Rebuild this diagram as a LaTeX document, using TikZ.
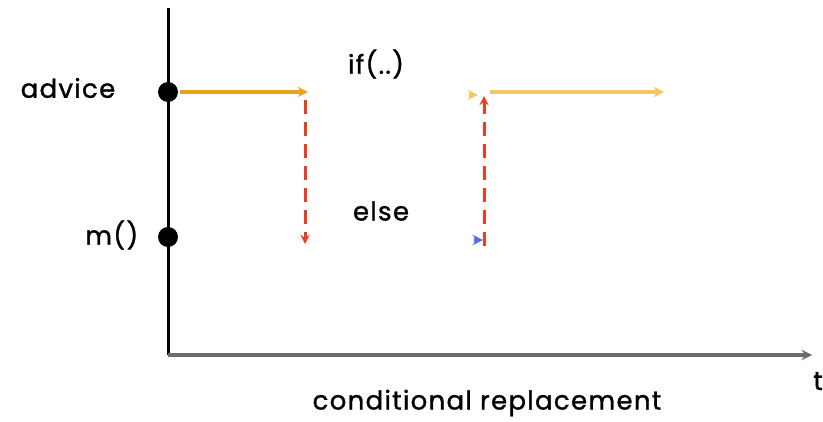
\documentclass[tikz,border=0pt]{standalone}
\usepackage{fontspec}
\setmainfont[LetterSpace=5,FakeBold=1.2]{Poppins}
\usetikzlibrary{positioning}
\definecolor{advorange}{HTML}{E9A41E}
\definecolor{newadv}{HTML}{F3C766}
\definecolor{jumpred}{HTML}{F03A24}
\definecolor{origblue}{HTML}{5B6BF5}
\definecolor{timegray}{HTML}{6B6B6B}

\begin{document}
\begin{tikzpicture}[x=1pt,y=-1pt,>=stealth,line width=3.5pt,
  lbl/.style={font=\fontsize{26}{30}\selectfont,inner sep=0pt},
  joinpt/.style={circle,fill=black,inner sep=0pt,minimum size=20pt},
  jump/.style={->,jumpred,line width=3pt,dash pattern=on 14pt off 8pt}]
\useasboundingbox (0,0) rectangle (823,422);
\coordinate (top) at (168,8);
\coordinate (origin) at (168,355);
\coordinate (tend) at (812,355);
\draw[black,line width=3pt] (top) -- (origin);
\draw[->,timegray] (origin) -- (tend);
\node[lbl] (t) at (818,381) {t};
\node[lbl] (caption) at (487,403) {conditional replacement};
% join points on the vertical axis
\node[joinpt] (adv) at (168,92) {};
\node[joinpt] (m) at (168,237) {};
\node[lbl,anchor=east] (advlbl) at (117,88) {advice};
\node[lbl,anchor=east] (mlbl) at (140,235) {m()};
\node[lbl] (iflbl) at (376,64) {if(..)};
\node[lbl] (elselbl) at (381,211) {else};
% advice runs, then jumps down
\coordinate (advend) at (308,92);
\coordinate (downtop) at (305,100);
\coordinate (downend) at (305,244);
\draw[->,advorange] (adv) -- (advend);
\draw[jump] (downtop) -- (downend);
% m() returns, back up to the advice
\coordinate (mstart) at (474,240);
\coordinate (mend) at (483,240);
\coordinate (upstart) at (484,246);
\coordinate (upend) at (484,96);
\draw[->,origblue] (mstart) -- (mend);
\draw[jump] (upstart) -- (upend);
\coordinate (resstart) at (469,95);
\coordinate (resend) at (478,95);
\coordinate (restail) at (490,92);
\coordinate (reshead) at (664,92);
\draw[->,newadv] (resstart) -- (resend);
\draw[->,newadv] (restail) -- (reshead);
\end{tikzpicture}
\end{document}
